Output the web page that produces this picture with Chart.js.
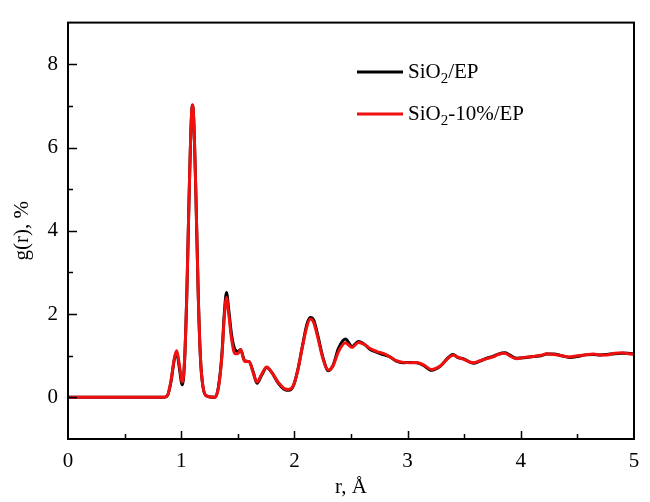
<!DOCTYPE html>
<html>
<head>
<meta charset="utf-8">
<script src="https://cdn.jsdelivr.net/npm/chart.js@4.4.1/dist/chart.umd.min.js"></script>
<style>
  html, body { margin: 0; padding: 0; background: #fff; }
  #wrap { width: 650px; height: 502px; position: relative; }
</style>
</head>
<body>
<div id="wrap"><canvas id="grChart"></canvas></div>
<script>
// r values (Angstrom) and g(r)
const rValues = [0, 0.85, 0.88, 0.91, 0.94, 0.96, 0.98, 1.01, 1.03, 1.05, 1.07, 1.09, 1.10, 1.11, 1.13, 1.15, 1.17, 1.19, 1.22, 1.30,
  1.33, 1.36, 1.38, 1.40, 1.42, 1.445, 1.475, 1.50, 1.525, 1.56, 1.60, 1.635, 1.67, 1.71, 1.755, 1.80, 1.86, 1.92, 1.95, 1.99,
  2.03, 2.07, 2.11, 2.14, 2.17, 2.21, 2.25, 2.30, 2.34, 2.39, 2.45, 2.51, 2.565, 2.62, 2.67, 2.73, 2.79, 2.84, 2.90, 2.96,
  3.02, 3.08, 3.14, 3.21, 3.29, 3.35, 3.40, 3.45, 3.49, 3.58, 3.64, 3.70, 3.76, 3.80, 3.86, 3.90, 3.96, 4.03, 4.11, 4.18,
  4.23, 4.29, 4.36, 4.43, 4.50, 4.57, 4.64, 4.70, 4.76, 4.83, 4.90, 4.95, 5.0];

const gSiO2 = [0, 0, 0.05, 0.38, 0.92, 1.08, 0.78, 0.30, 0.88, 2.52, 4.85, 6.72, 7.02, 6.72, 4.85, 2.52, 0.95, 0.3, 0.04, 0,
  0.27, 1.05, 1.98, 2.52, 2.1, 1.5, 1.15, 1.1, 1.15, 0.88, 0.86, 0.62, 0.34, 0.53, 0.72, 0.6, 0.33, 0.18, 0.17, 0.27,
  0.66, 1.22, 1.75, 1.92, 1.86, 1.45, 0.98, 0.64, 0.76, 1.18, 1.40, 1.22, 1.34, 1.27, 1.15, 1.08, 1.02, 0.98, 0.87, 0.83,
  0.84, 0.83, 0.77, 0.65, 0.75, 0.93, 1.03, 0.95, 0.93, 0.82, 0.87, 0.94, 0.99, 1.04, 1.07, 1.02, 0.94, 0.95, 0.98, 1.0,
  1.04, 1.04, 1.0, 0.96, 0.98, 1.02, 1.03, 1.02, 1.03, 1.05, 1.06, 1.06, 1.04];

const gSiO2Ten = [0, 0, 0.05, 0.4, 0.95, 1.12, 0.85, 0.37, 0.9, 2.52, 4.85, 6.72, 7.02, 6.72, 4.85, 2.52, 0.95, 0.3, 0.04, 0,
  0.25, 1.0, 1.9, 2.40, 2.0, 1.4, 1.05, 1.05, 1.15, 0.86, 0.86, 0.6, 0.37, 0.55, 0.73, 0.6, 0.35, 0.2, 0.19, 0.28,
  0.65, 1.2, 1.7, 1.88, 1.8, 1.4, 0.95, 0.66, 0.75, 1.1, 1.31, 1.20, 1.32, 1.27, 1.17, 1.1, 1.05, 0.98, 0.88, 0.84,
  0.83, 0.84, 0.78, 0.67, 0.76, 0.92, 1.01, 0.96, 0.92, 0.83, 0.88, 0.93, 0.98, 1.03, 1.06, 1.0, 0.93, 0.96, 0.98, 1.01,
  1.05, 1.03, 1.0, 0.97, 1.0, 1.02, 1.04, 1.02, 1.02, 1.06, 1.07, 1.05, 1.04];

const seriesNames = ['SiO₂/EP', 'SiO₂-10%/EP'];
const seriesColors = ['#000000', '#f01010'];
const yLabelTicks = [0, 2, 4, 6, 8];
const xLabelTicks = [0, 1, 2, 3, 4, 5];

const FONT = '"Liberation Serif", "DejaVu Serif", serif';

function toPoints(ys) {
  return rValues.map((r, i) => ({ x: r, y: ys[i] }));
}

// frame, inward ticks and the legend
const framePlugin = {
  id: 'frame',
  afterDatasetsDraw(chart) {
    const ctx = chart.ctx;
    const a = chart.chartArea;
    const xs = chart.scales.x;
    const ys = chart.scales.y;
    ctx.save();
    ctx.strokeStyle = '#000';
    ctx.lineWidth = 2;
    ctx.strokeRect(a.left, a.top, a.right - a.left, a.bottom - a.top);

    ctx.lineWidth = 1.5;
    ctx.beginPath();
    xs.ticks.forEach(t => {
      const px = Math.round(xs.getPixelForValue(t.value)) + 0.5;
      const len = Number.isInteger(t.value) ? 8 : 5;
      if (t.value <= 0 || t.value >= 5) return;
      ctx.moveTo(px, a.bottom);
      ctx.lineTo(px, a.bottom - len);
    });
    ys.ticks.forEach(t => {
      const py = Math.round(ys.getPixelForValue(t.value)) + 0.5;
      if (t.value <= -1 || t.value >= 9) return;
      const len = yLabelTicks.includes(t.value) ? 9 : 5;
      ctx.moveTo(a.left, py);
      ctx.lineTo(a.left + len, py);
    });
    ctx.stroke();

    // legend
    const lx = 357, ly = [72, 114];
    ctx.font = '21px ' + FONT;
    ctx.textBaseline = 'middle';
    seriesNames.forEach((name, i) => {
      ctx.strokeStyle = seriesColors[i];
      ctx.lineWidth = 3;
      ctx.beginPath();
      ctx.moveTo(lx, ly[i]);
      ctx.lineTo(lx + 46, ly[i]);
      ctx.stroke();
      ctx.fillStyle = '#000';
      const parts = name.split('₂');
      let tx = lx + 51;
      parts.forEach((p, j) => {
        ctx.font = '21px ' + FONT;
        ctx.fillText(p, tx, ly[i]);
        tx += ctx.measureText(p).width;
        if (j < parts.length - 1) {
          ctx.font = '15px ' + FONT;
          ctx.fillText('2', tx, ly[i] + 7);
          tx += ctx.measureText('2').width;
        }
      });
    });
    ctx.restore();
  }
};

new Chart(document.getElementById('grChart'), {
  type: 'line',
  data: {
    datasets: [
      {
        label: seriesNames[1],
        data: toPoints(gSiO2Ten),
        borderColor: seriesColors[1],
        borderWidth: 3,
        pointRadius: 0,
        cubicInterpolationMode: 'monotone',
        order: 1
      },
      {
        label: seriesNames[0],
        data: toPoints(gSiO2),
        borderColor: seriesColors[0],
        borderWidth: 3,
        pointRadius: 0,
        cubicInterpolationMode: 'monotone',
        order: 2
      }
    ]
  },
  options: {
    responsive: true,
    maintainAspectRatio: false,
    animation: false,
    layout: { padding: { top: 11, right: 16, left: 0, bottom: 0 } },
    plugins: {
      legend: { display: false },
      tooltip: { enabled: false }
    },
    scales: {
      x: {
        type: 'linear',
        min: 0,
        max: 5,
        grid: { display: false, drawTicks: false },
        border: { display: false },
        ticks: {
          stepSize: 0.5,
          autoSkip: false,
          maxRotation: 0,
          padding: 10,
          color: '#000',
          font: { family: FONT, size: 21 },
          callback: v => xLabelTicks.includes(v) ? String(v) : ''
        },
        title: {
          display: true,
          text: 'r, Å',
          color: '#000',
          font: { family: FONT, size: 21 },
          padding: { top: 0, bottom: 2 }
        },
        afterFit: s => { s.height = 63; }
      },
      y: {
        min: -1,
        max: 9,
        grid: { display: false, drawTicks: false },
        border: { display: false },
        ticks: {
          stepSize: 1,
          autoSkip: false,
          padding: 10,
          color: '#000',
          font: { family: FONT, size: 21 },
          callback: v => yLabelTicks.includes(v) ? String(v) : ''
        },
        title: {
          display: true,
          text: 'g(r), %',
          color: '#000',
          font: { family: FONT, size: 21 },
          padding: { top: 10, bottom: 0 }
        },
        afterFit: s => { s.width = 68; }
      }
    }
  },
  plugins: [framePlugin]
});
</script>
</body>
</html>
